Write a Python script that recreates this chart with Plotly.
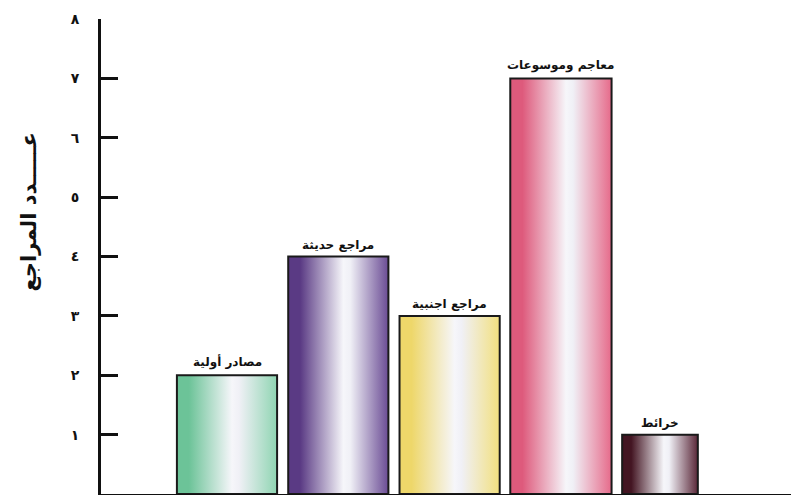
import plotly.graph_objects as go

# data
categories = ["مصادر أولية", "مراجع حديثة", "مراجع اجنبية", "معاجم وموسوعات", "خرائط"]
counts = [2, 4, 3, 7, 1]
tick_values = [1, 2, 3, 4, 5, 6, 7, 8]
tick_labels = ["١", "٢", "٣", "٤", "٥", "٦", "٧", "٨"]
y_title = "عـــــدد المراجع"

# cylinder-like shading: dark edge -> light centre -> dark edge
shades = [
    ("#6cc398", "#8fd5b2"),
    ("#5a3a84", "#6a4b94"),
    ("#eed76a", "#f2e07e"),
    ("#de5a7c", "#e66a8a"),
    ("#431522", "#5a2738"),
]
widths = [0.9, 0.9, 0.9, 0.91, 0.68]
shifts = [0, 0, 0, 0, -0.11]

fig = go.Figure()

for i, (cat, val) in enumerate(zip(categories, counts)):
    left_c, right_c = shades[i]
    cx = i + shifts[i]
    x0, x1 = cx - widths[i] / 2, cx + widths[i] / 2
    fig.add_trace(
        go.Scatter(
            x=[x0, x0, x1, x1, x0],
            y=[0, val, val, 0, 0],
            mode="lines",
            fill="toself",
            fillgradient=dict(
                type="horizontal",
                colorscale=[
                    [0, left_c],
                    [0.12, left_c],
                    [0.55, "#f6f6fa"],
                    [0.62, "#f0f0f6"],
                    [1, right_c],
                ],
            ),
            line=dict(color="#1a1a1a", width=2),
            hoverinfo="skip",
            showlegend=False,
        )
    )
    # category label sitting just above the bar
    fig.add_annotation(
        x=cx,
        y=val,
        text=f"<b>{cat}</b>",
        showarrow=False,
        yanchor="bottom",
        yshift=3,
        font=dict(family="DejaVu Sans", size=12, color="#111"),
    )

fig.add_annotation(
    text=f"<b>{y_title}</b>",
    xref="paper",
    yref="y",
    x=-0.105,
    xanchor="center",
    y=4.75,
    yanchor="middle",
    textangle=-90,
    showarrow=False,
    font=dict(family="DejaVu Sans", size=21, color="#111"),
)

fig.update_layout(
    width=791,
    height=495,
    margin=dict(l=101, r=0, t=19, b=1),
    plot_bgcolor="white",
    paper_bgcolor="white",
    xaxis=dict(
        range=[-1.132, 5.067],
        showgrid=False,
        zeroline=False,
        showticklabels=False,
        ticks="",
        showline=True,
        linecolor="#111",
        linewidth=3,
        automargin=False,
    ),
    yaxis=dict(
        range=[0, 8],
        showgrid=False,
        zeroline=False,
        tickvals=tick_values,
        ticktext=[f"<b>{t}</b>" for t in tick_labels],
        ticks="inside",
        ticklen=17,
        tickwidth=3,
        tickcolor="#111",
        ticklabelstandoff=16,
        tickfont=dict(family="DejaVu Sans", size=14, color="#111"),
        showline=True,
        linecolor="#111",
        linewidth=3,
        automargin=False,
    ),
)

fig.write_html(
    "out.html",
    config={"displayModeBar": False},
    post_script="document.body.style.margin='0';document.body.style.overflow='hidden';",
)
